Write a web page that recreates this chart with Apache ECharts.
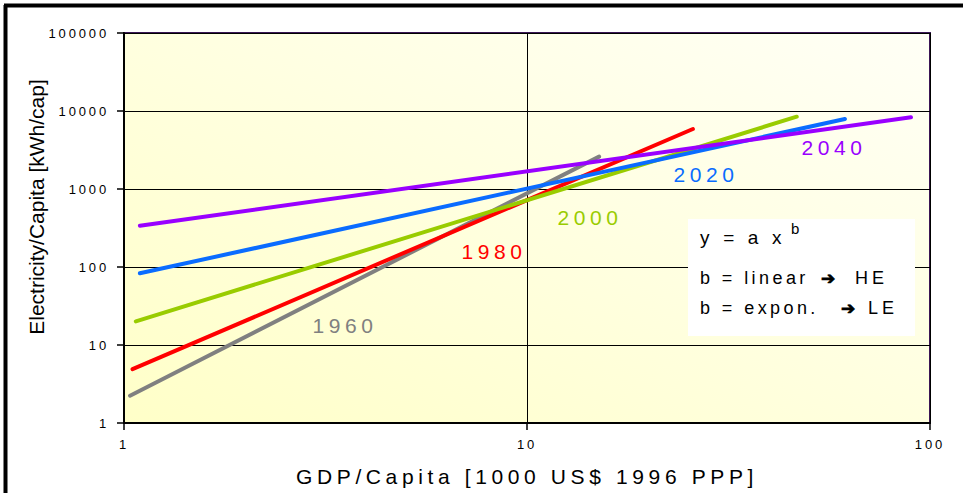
<!DOCTYPE html>
<html>
<head>
<meta charset="utf-8">
<script src="https://cdn.jsdelivr.net/npm/echarts@6/dist/echarts.min.js"></script>
<style>
  html, body { margin: 0; padding: 0; background: #fff; }
  #c { width: 963px; height: 493px; }
  #c svg text { letter-spacing: 0.22em; }
</style>
</head>
<body>
<div id="c"></div>
<script>
// ---- Data ----
const years = ['1960', '1980', '2000', '2020', '2040'];
const gdp1960 = [1.035, 15.1];
const elec1960 = [2.24, 2600];
const gdp1980 = [1.05, 25.8];
const elec1980 = [4.9, 5880];
const gdp2000 = [1.07, 46.7];
const elec2000 = [20.1, 8450];
const gdp2020 = [1.095, 61.5];
const elec2020 = [83, 7900];
const gdp2040 = [1.095, 89.7];
const elec2040 = [338, 8300];
const xTicks = [1, 10, 100];
const yTicks = [1, 10, 100, 1000, 10000, 100000];
const boxLines = ['y = a x', 'b', 'b = linear', 'b = expon.', '\u2794', 'HE', 'LE'];

const gdpSets = [gdp1960, gdp1980, gdp2000, gdp2020, gdp2040];
const elecSets = [elec1960, elec1980, elec2000, elec2020, elec2040];
const colors = ['#808080', '#FF0000', '#99CC00', '#0A6CFF', '#9900FF'];
const labelPos = [[345, 325], [494, 251], [590, 217], [706, 174], [834, 147]];

const FONT = '"Liberation Sans", Arial, Helvetica, sans-serif';

const chart = echarts.init(document.getElementById('c'), null, { renderer: 'svg' });

const series = years.map((y, i) => ({
  name: y,
  type: 'line',
  data: gdpSets[i].map((g, k) => [g, elecSets[i][k]]),
  showSymbol: false,
  symbol: 'none',
  silent: true,
  lineStyle: { color: colors[i], width: 4, cap: 'round' },
  z: 3
}));

const T18 = '18px ' + FONT;
const ARROW = 'bold 17px "DejaVu Sans", sans-serif';
function boxText(str, x, y, font, ls) {
  const isArrow = font === ARROW;
  return { type: 'text', x: x, y: y, z: 11,
    style: { text: str, font: font, fill: '#000', stroke: isArrow ? '#000' : null, lineWidth: isArrow ? 0.8 : 0,
      align: 'left', verticalAlign: 'middle' } };
}

const graphics = [
  // outer frame (left and top)
  { type: 'line', shape: { x1: 5.5, y1: 5, x2: 5.5, y2: 493 }, style: { stroke: '#000', lineWidth: 4 } },
  { type: 'line', shape: { x1: 4, y1: 5.5, x2: 963, y2: 5.5 }, style: { stroke: '#000', lineWidth: 4 } },
  // y axis name
  { type: 'text', x: 36, y: 207, rotation: Math.PI / 2,
    style: { text: 'Electricity/Capita [kWh/cap]', font: '21px ' + FONT, fill: '#000', align: 'center', verticalAlign: 'middle' } },
  // formula box
  { type: 'rect', shape: { x: 688, y: 219, width: 227, height: 117 }, style: { fill: '#fff' }, z: 10 },
  boxText(boxLines[0], 700, 237, '19px ' + FONT),
  boxText(boxLines[1], 791, 228, '15px ' + FONT),
  boxText(boxLines[2], 700, 278, T18),
  boxText(boxLines[4], 821, 278, ARROW),
  boxText(boxLines[5], 855, 278, T18),
  boxText(boxLines[3], 700, 308, T18),
  boxText(boxLines[4], 841, 308, ARROW),
  boxText(boxLines[6], 868, 308, T18)
];
years.forEach((y, i) => {
  graphics.push({ type: 'text', x: labelPos[i][0], y: labelPos[i][1], z: 12,
    style: { text: y, font: '21px ' + FONT, fill: colors[i], align: 'center', verticalAlign: 'middle' } });
});

chart.setOption({
  animation: false,
  backgroundColor: '#ffffff',
  grid: {
    left: 124, right: 33, top: 33, bottom: 70,
    show: true,
    borderColor: '#3b1655',
    borderWidth: 2,
    backgroundColor: {
      type: 'linear', x: 0, y: 1, x2: 1, y2: 0,
      colorStops: [{ offset: 0, color: '#FFFFC8' }, { offset: 1, color: '#FFFFF6' }]
    }
  },
  xAxis: {
    type: 'log', logBase: 10, min: xTicks[0], max: xTicks[xTicks.length - 1],
    name: 'GDP/Capita [1000 US$ 1996 PPP]',
    nameLocation: 'middle', nameGap: 43,
    nameTextStyle: { fontSize: 21, color: '#000', fontFamily: FONT },
    axisLine: { show: true, lineStyle: { color: '#000', width: 2 } },
    axisTick: { show: true, inside: false, length: 7, lineStyle: { color: '#000', width: 1.5 } },
    axisLabel: { fontSize: 13, color: '#000', fontFamily: FONT, margin: 15,
      formatter: v => String(Math.round(v)) },
    splitLine: { show: true, lineStyle: { color: '#000', width: 1 } },
    minorTick: { show: false }, minorSplitLine: { show: false }
  },
  yAxis: {
    type: 'log', logBase: 10, min: yTicks[0], max: yTicks[yTicks.length - 1],
    axisLine: { show: true, lineStyle: { color: '#000', width: 2 } },
    axisTick: { show: true, inside: false, length: 7, lineStyle: { color: '#000', width: 1.5 } },
    axisLabel: { fontSize: 13, color: '#000', fontFamily: FONT, margin: 15,
      formatter: v => String(Math.round(v)) },
    splitLine: { show: true, lineStyle: { color: '#000', width: 1 } },
    minorTick: { show: false }, minorSplitLine: { show: false }
  },
  tooltip: { show: false },
  series: series,
  graphic: graphics
});

function spacing() {
  document.querySelectorAll('#c svg text').forEach(t => {
    const s = t.textContent;
    if (s.indexOf('Electricity') === 0) t.style.letterSpacing = '0px';
    else if (s.indexOf('b = ') === 0) t.style.letterSpacing = '0.19em';
  });
}
spacing();
chart.on('finished', spacing);
</script>
</body>
</html>
